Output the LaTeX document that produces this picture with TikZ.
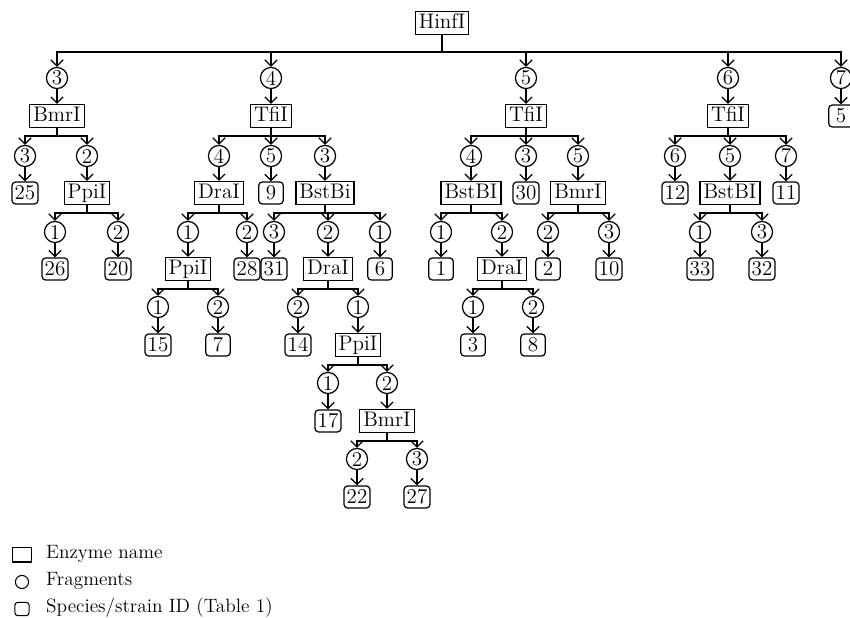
\documentclass[tikz,border=0pt]{standalone}
\usetikzlibrary{arrows.meta}

\tikzset{
  enz/.style={draw, rectangle, line width=0.7pt, inner xsep=2pt, inner ysep=0pt,
    text height=8.3pt, text depth=2.4pt, minimum height=13pt},
  frag/.style={draw, circle, line width=0.7pt, inner sep=0pt, minimum size=12pt},
  spec/.style={draw, rectangle, rounded corners=2pt, line width=0.7pt, inner xsep=1.5pt,
    inner ysep=0pt, text height=7.7pt, text depth=0pt, minimum width=14pt, minimum height=12.5pt},
  arr/.style={-{Straight Barb[length=3.5pt,width=7pt]}, line width=0.7pt}
}

\begin{document}
\begin{tikzpicture}[x=0.02cm, y=-0.02cm, font=\fontsize{12}{14}\selectfont]

\useasboundingbox (0,0) rectangle (850,618);
\clip (0,0) rectangle (850,618);

\node[enz] (hinf) at (442,23) {HinfI};

% branch 3
\node[frag] (fA) at (57,78) {3};
\node[enz] (bmrA) at (57,116) {BmrI};
\node[frag] (fA1) at (25,156) {3};
\node[spec] (sA1) at (25,193) {25};
\node[frag] (fA2) at (87,156) {2};
\node[enz] (ppiA) at (87,193) {PpiI};
\node[frag] (fA21) at (55,232) {1};
\node[spec] (sA21) at (55,269) {26};
\node[frag] (fA22) at (118,232) {2};
\node[spec] (sA22) at (118,269) {20};

% branch 4
\node[frag] (fB) at (271,78) {4};
\node[enz] (tfiB) at (271,116) {TfiI};
\node[frag] (fB1) at (219,156) {4};
\node[enz] (draB) at (219,193) {DraI};
\node[frag] (fB11) at (188,232) {1};
\node[enz] (ppiB) at (188,269) {PpiI};
\node[frag] (fB111) at (158,307) {1};
\node[spec] (sB111) at (158,345) {15};
\node[frag] (fB112) at (218,307) {2};
\node[spec] (sB112) at (218,345) {7};
\node[frag] (fB12) at (247,232) {2};
\node[spec] (sB12) at (247,269) {28};
\node[frag] (fB2) at (271,156) {5};
\node[spec] (sB2) at (271,193) {9};
\node[frag] (fB3) at (325,156) {3};
\node[enz] (bstB) at (325,193) {BstBi};
\node[frag] (fB31) at (274,232) {3};
\node[spec] (sB31) at (274,269) {31};
\node[frag] (fB32) at (328,232) {2};
\node[enz] (draB2) at (328,269) {DraI};
\node[frag] (fB321) at (298,307) {2};
\node[spec] (sB321) at (298,345) {14};
\node[frag] (fB322) at (358,307) {1};
\node[enz] (ppiB2) at (358,345) {PpiI};
\node[frag] (fB3221) at (328,383) {1};
\node[spec] (sB3221) at (328,421) {17};
\node[frag] (fB3222) at (387,383) {2};
\node[enz] (bmrB) at (387,421) {BmrI};
\node[frag] (fB32221) at (357,459) {2};
\node[spec] (sB32221) at (357,497) {22};
\node[frag] (fB32222) at (417,459) {3};
\node[spec] (sB32222) at (417,497) {27};
\node[frag] (fB33) at (380,232) {1};
\node[spec] (sB33) at (380,269) {6};

% branch 5
\node[frag] (fC) at (526,78) {5};
\node[enz] (tfiC) at (526,116) {TfiI};
\node[frag] (fC1) at (471,156) {4};
\node[enz] (bstC) at (471,193) {BstBI};
\node[frag] (fC11) at (441,232) {1};
\node[spec] (sC11) at (441,269) {1};
\node[frag] (fC12) at (502,232) {2};
\node[enz] (draC) at (502,269) {DraI};
\node[frag] (fC121) at (473,307) {1};
\node[spec] (sC121) at (473,345) {3};
\node[frag] (fC122) at (533,307) {2};
\node[spec] (sC122) at (533,345) {8};
\node[frag] (fC2) at (526,156) {3};
\node[spec] (sC2) at (526,193) {30};
\node[frag] (fC3) at (578,156) {5};
\node[enz] (bmrC) at (578,193) {BmrI};
\node[frag] (fC31) at (548,232) {2};
\node[spec] (sC31) at (548,269) {2};
\node[frag] (fC32) at (609,232) {3};
\node[spec] (sC32) at (609,269) {10};

% branch 6
\node[frag] (fD) at (728,78) {6};
\node[enz] (tfiD) at (728,116) {TfiI};
\node[frag] (fD1) at (675,156) {6};
\node[spec] (sD1) at (675,193) {12};
\node[frag] (fD2) at (730,156) {5};
\node[enz] (bstD) at (730,193) {BstBI};
\node[frag] (fD21) at (700,232) {1};
\node[spec] (sD21) at (700,269) {33};
\node[frag] (fD22) at (762,232) {3};
\node[spec] (sD22) at (762,269) {32};
\node[frag] (fD3) at (786,156) {7};
\node[spec] (sD3) at (786,193) {11};

% branch 7
\node[frag] (fE) at (841,78) {7};
\node[spec] (sE) at (841,116) {5};

% forks
\foreach \c in {fA,fB,fC,fD,fE}
  \draw[arr] (hinf.south) -- ++(0,17) -| (\c.north);
\foreach \p/\c in {bmrA/fA1, bmrA/fA2, ppiA/fA21, ppiA/fA22,
    tfiB/fB1, tfiB/fB2, tfiB/fB3, draB/fB11, draB/fB12, ppiB/fB111, ppiB/fB112,
    bstB/fB31, bstB/fB32, bstB/fB33, draB2/fB321, draB2/fB322,
    ppiB2/fB3221, ppiB2/fB3222, bmrB/fB32221, bmrB/fB32222,
    tfiC/fC1, tfiC/fC2, tfiC/fC3, bstC/fC11, bstC/fC12, draC/fC121, draC/fC122,
    bmrC/fC31, bmrC/fC32,
    tfiD/fD1, tfiD/fD2, tfiD/fD3, bstD/fD21, bstD/fD22}
  \draw[arr] (\p.south) -- ++(0,8) -| (\c.north);

% fragment to enzyme or species
\foreach \a/\b in {fA/bmrA, fA1/sA1, fA2/ppiA, fA21/sA21, fA22/sA22,
    fB/tfiB, fB1/draB, fB11/ppiB, fB111/sB111, fB112/sB112, fB12/sB12,
    fB2/sB2, fB3/bstB, fB31/sB31, fB32/draB2, fB321/sB321, fB322/ppiB2,
    fB3221/sB3221, fB3222/bmrB, fB32221/sB32221, fB32222/sB32222, fB33/sB33,
    fC/tfiC, fC1/bstC, fC11/sC11, fC12/draC, fC121/sC121, fC122/sC122,
    fC2/sC2, fC3/bmrC, fC31/sC31, fC32/sC32,
    fD/tfiD, fD1/sD1, fD2/bstD, fD21/sD21, fD22/sD22, fD3/sD3, fE/sE}
  \draw[arr] (\a) -- (\b);

% legend
\begin{scope}[font=\fontsize{11}{13}\selectfont]
\node[draw, rectangle, line width=0.6pt, minimum width=11pt, minimum height=8pt, inner sep=0pt] (lenz) at (22,555) {};
\node[draw, circle, line width=0.6pt, minimum size=7.5pt, inner sep=0pt] (lfrag) at (22,582) {};
\node[draw, rectangle, rounded corners=1.5pt, line width=0.6pt, minimum width=8pt, minimum height=7.5pt, inner sep=0pt] (lspec) at (22,609) {};
\node[anchor=west] (tenz) at (40,554) {Enzyme name};
\node[anchor=west] (tfrag) at (40,581) {Fragments};
\node[anchor=west] (tspec) at (40,608) {Species/strain ID (Table 1)};
\end{scope}

\end{tikzpicture}
\end{document}
